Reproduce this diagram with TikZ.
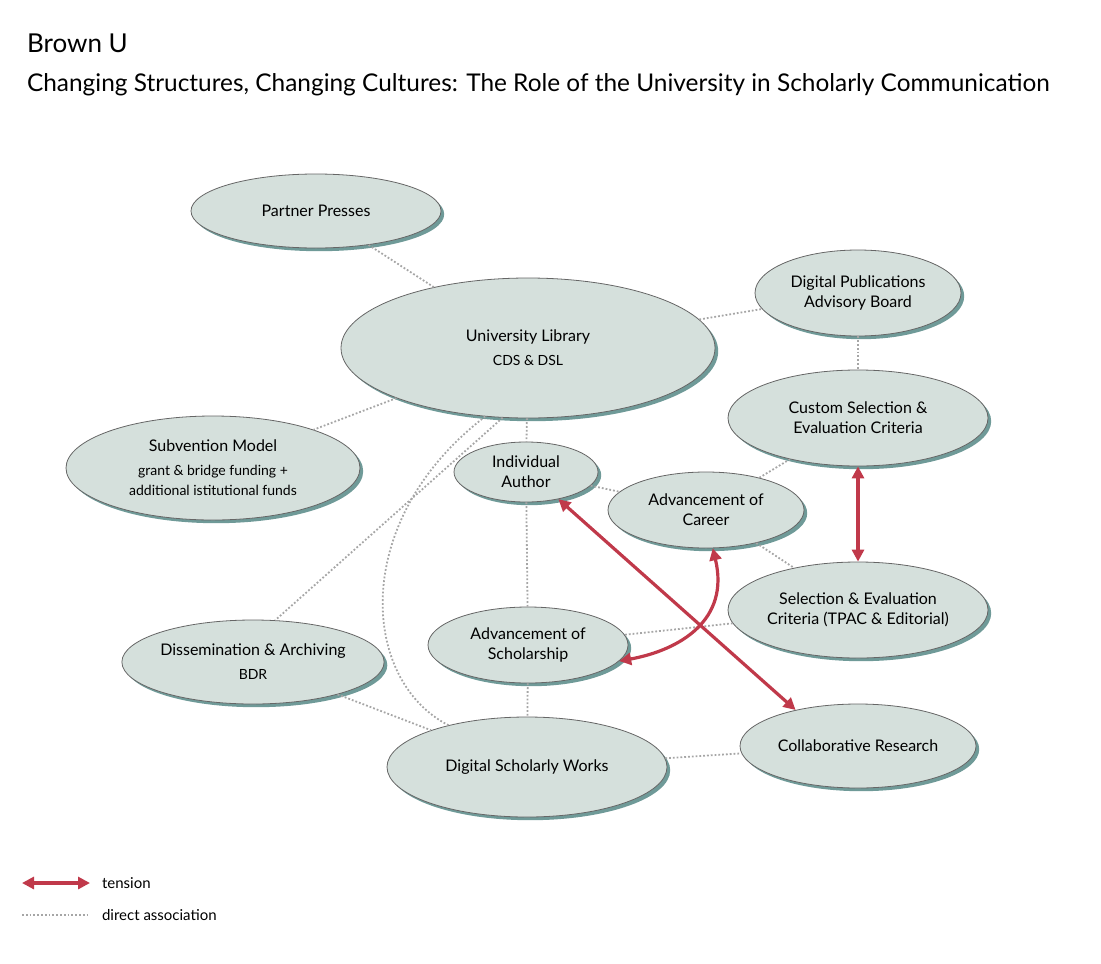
\documentclass[tikz,border=0pt]{standalone}
\usepackage{fontspec}
\setmainfont{Lato}
\usetikzlibrary{shapes.geometric,arrows.meta,shadows}
\definecolor{fillc}{HTML}{D5E0DC}
\definecolor{shad}{HTML}{6F9A98}
\definecolor{redc}{HTML}{C0394A}
\begin{document}
\begin{tikzpicture}[x=0.5pt,y=-0.5pt,
  el/.style={ellipse,fill=fillc,draw=black!60,line width=0.4pt,inner sep=0pt,align=center,font=\fontsize{8}{10}\selectfont,
    copy shadow={fill=shad,draw=none,shadow xshift=1.6pt,shadow yshift=-1.6pt}},
  ass/.style={densely dotted,gray!70,line width=0.9pt},
  ten/.style={redc,line width=1.6pt,{Triangle[length=6pt,width=6pt]}-{Triangle[length=6pt,width=6pt]}}]
\useasboundingbox (0,0) rectangle (1101,963);
\node[anchor=west,font=\fontsize{13}{15}\selectfont] (t1) at (20,43) {Brown U};
\node[anchor=west,font=\fontsize{12.2}{14}\selectfont] (t2) at (20,85) {Changing Structures, Changing Cultures: The Role of the University in Scholarly Communication};
\node[el,minimum width=125pt,minimum height=37pt] (pp) at (316,211) {Partner Presses};
\node[el,minimum width=187pt,minimum height=70pt] (ul) at (528,348) {University Library\\[2pt]{\fontsize{7}{9}\selectfont CDS \& DSL}};
\node[el,minimum width=103pt,minimum height=43pt] (dp) at (858,293) {Digital Publications\\Advisory Board};
\node[el,minimum width=130pt,minimum height=48pt] (cs) at (858,418) {Custom Selection \&\\Evaluation Criteria};
\node[el,minimum width=147pt,minimum height=52pt] (sv) at (213,468) {Subvention Model\\[2pt]{\fontsize{7}{9}\selectfont grant \& bridge funding +}\\{\fontsize{7}{9}\selectfont additional istitutional funds}};
\node[el,minimum width=72pt,minimum height=30pt] (ia) at (526,472) {Individual\\Author};
\node[el,minimum width=98pt,minimum height=38pt] (ac) at (706,510) {Advancement of\\Career};
\node[el,minimum width=130pt,minimum height=48pt] (se) at (858,610) {Selection \& Evaluation\\Criteria (TPAC \& Editorial)};
\node[el,minimum width=100pt,minimum height=38pt] (as) at (528,645) {Advancement of\\Scholarship};
\node[el,minimum width=118pt,minimum height=42pt] (da) at (253,662) {Dissemination \& Archiving\\[2pt]{\fontsize{7}{9}\selectfont BDR}};
\node[el,minimum width=140pt,minimum height=50pt] (ds) at (527,767) {Digital Scholarly Works};
\node[el,minimum width=118pt,minimum height=42pt] (cr) at (858,746) {Collaborative Research};
\draw[ass] (pp) -- (ul);
\draw[ass] (ul) -- (dp);
\draw[ass] (dp) -- (cs);
\draw[ass] (ul) -- (sv);
\draw[ass] (ul) -- (ia);
\draw[ass] (ul.250) -- (da.62);
\draw[ass] (ul.238) .. controls (350,520) and (360,680) .. (ds.152);
\draw[ass] (ia) -- (ac);
\draw[ass] (ac) -- (cs);
\draw[ass] (ac) -- (se);
\draw[ass] (se) -- (as);
\draw[ass] (ia) -- (as);
\draw[ass] (as) -- (ds);
\draw[ass] (da) -- (ds);
\draw[ass] (ds) -- (cr);
\draw[ten] (ia.-40) -- (cr.150);
\draw[ten] (cs) -- (se);
\draw[ten] (ac.-80) .. controls (730,620) and (680,650) .. (as.-10);
\coordinate (l1a) at (22,883); \coordinate (l1b) at (90,883);
\coordinate (l2a) at (22,915); \coordinate (l2b) at (90,915);
\draw[ten] (l1a) -- (l1b);
\draw[ass] (l2a) -- (l2b);
\node[anchor=west,font=\fontsize{7.5}{9}\selectfont] (lt) at (95,883) {tension};
\node[anchor=west,font=\fontsize{7.5}{9}\selectfont] (ld) at (95,915) {direct association};
\end{tikzpicture}
\end{document}
